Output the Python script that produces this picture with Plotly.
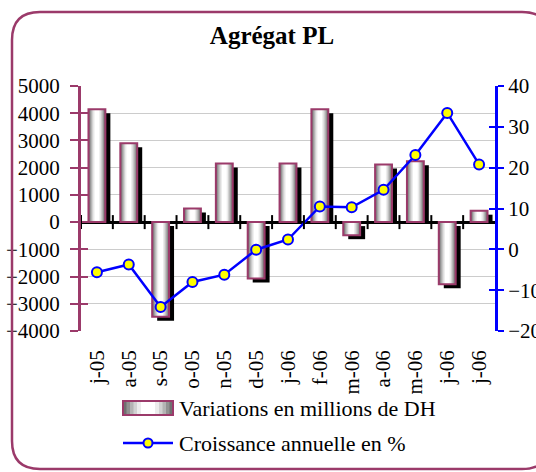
import plotly.graph_objects as go

months = ["j-05", "a-05", "s-05", "o-05", "n-05", "d-05", "j-06",
          "f-06", "m-06", "a-06", "m-06", "j-06", "j-06"]
variations = [4150, 2900, -3480, 500, 2150, -2070, 2150,
              4150, -480, 2120, 2240, -2280, 420]
croissance = [-5.6, -3.7, -14.1, -8.0, -6.2, -0.1, 2.4,
              10.5, 10.3, 14.6, 23.1, 33.4, 20.8]

idx = list(range(len(months)))

W = 536
H = 472
PL, PR, PT, PB = 81, 495, 86, 331
PW, PH = PR - PL, PB - PT

def px(x):
    return (x - PL) / PW

def py(y):
    return (PB - y) / PH

MAROON = "#9b3a6a"
BLUE = "#0000ff"
FONT = "'Liberation Serif', 'Times New Roman', Times, serif"

bw = 0.53
shadow_dx = 5 / PW * 13  # 5 px in category units
shadow_dy = 4 / PH * 9000  # 4 px in value units

fig = go.Figure()

# shadows
sh_base = [0 if v > 0 else -shadow_dy for v in variations]
sh_h = [v - shadow_dy if v > 0 else v for v in variations]
fig.add_trace(go.Bar(x=idx, y=sh_h, base=sh_base, width=bw, offset=-bw / 2 + shadow_dx,
                     marker=dict(color="black", line=dict(width=0)),
                     showlegend=False, hoverinfo="skip"))

layers = [(1.0, "#707070"), (0.86, "#929292"), (0.72, "#b4b4b4"),
          (0.58, "#d2d2d2"), (0.44, "#ececec"), (0.28, "#ffffff")]
for frac, col in layers:
    w = bw * frac
    fig.add_trace(go.Bar(x=idx, y=variations, width=w, offset=-w / 2,
                         marker=dict(color=col, line=dict(width=0)),
                         showlegend=False, hoverinfo="skip"))

fig.add_trace(go.Bar(x=idx, y=variations, width=bw, offset=-bw / 2,
                     marker=dict(color="rgba(0,0,0,0)", line=dict(color=MAROON, width=2)),
                     name="Variations en millions de DH", showlegend=False))

fig.add_trace(go.Scatter(x=idx, y=croissance, yaxis="y2", mode="lines+markers",
                         line=dict(color=BLUE, width=2.5),
                         marker=dict(size=10, color="#ffff00", line=dict(color=BLUE, width=2)),
                         name="Croissance annuelle en %", showlegend=False))

# invisible traces for the overlay tick axes
fig.add_trace(go.Scatter(x=[0], y=[0], yaxis="y3", mode="markers",
                         marker=dict(opacity=0), showlegend=False, hoverinfo="skip"))
fig.add_trace(go.Scatter(x=[0], y=[0], yaxis="y4", mode="markers",
                         marker=dict(opacity=0), showlegend=False, hoverinfo="skip"))

shapes = []
# tick marks across the zero line at category boundaries
tick_half = 7 / PH * 9000
for i in range(len(months)):
    shapes.append(dict(type="line", xref="x", yref="y", x0=i - 0.5, x1=i - 0.5,
                       y0=-tick_half, y1=tick_half, line=dict(color="black", width=2)))

# rounded outer border
bx0, by0, bx1, by1, r = 12, 12, 550, 469, 28
path = (f"M {px(bx0)},{py(by0 + r)} "
        f"Q {px(bx0)},{py(by0)} {px(bx0 + r)},{py(by0)} "
        f"L {px(bx1 - r)},{py(by0)} "
        f"Q {px(bx1)},{py(by0)} {px(bx1)},{py(by0 + r)} "
        f"L {px(bx1)},{py(by1 - r)} "
        f"Q {px(bx1)},{py(by1)} {px(bx1 - r)},{py(by1)} "
        f"L {px(bx0 + r)},{py(by1)} "
        f"Q {px(bx0)},{py(by1)} {px(bx0)},{py(by1 - r)} Z")
shapes.append(dict(type="path", xref="paper", yref="paper", path=path,
                   line=dict(color=MAROON, width=2.5), fillcolor="rgba(0,0,0,0)"))

# legend: gradient rectangle
lx0, lx1, ly0, ly1 = 123, 173, 401, 415
lw = lx1 - lx0
lc = (lx0 + lx1) / 2
for frac, col in layers:
    hw = lw * frac / 2
    shapes.append(dict(type="rect", xref="paper", yref="paper",
                       x0=px(lc - hw), x1=px(lc + hw), y0=py(ly1), y1=py(ly0),
                       fillcolor=col, line=dict(width=0)))
shapes.append(dict(type="rect", xref="paper", yref="paper",
                   x0=px(lx0), x1=px(lx1), y0=py(ly1), y1=py(ly0),
                   fillcolor="rgba(0,0,0,0)", line=dict(color=MAROON, width=2)))
# legend: line with marker
shapes.append(dict(type="line", xref="paper", yref="paper",
                   x0=px(lx0), x1=px(lx1), y0=py(443), y1=py(443),
                   line=dict(color=BLUE, width=2.5)))
shapes.append(dict(type="circle", xref="paper", yref="paper",
                   x0=px(lc - 4.5), x1=px(lc + 4.5), y0=py(447.5), y1=py(438.5),
                   fillcolor="#ffff00", line=dict(color=BLUE, width=2)))

annotations = [
    dict(text="Variations en millions de DH", xref="paper", yref="paper",
         x=px(177), y=py(408), xanchor="left", yanchor="middle", showarrow=False,
         font=dict(family=FONT, size=22, color="black")),
    dict(text="Croissance annuelle en %", xref="paper", yref="paper",
         x=px(177), y=py(443), xanchor="left", yanchor="middle", showarrow=False,
         font=dict(family=FONT, size=22, color="black")),
]

fig.update_layout(
    width=W, height=H,
    margin=dict(l=PL, r=W - PR, t=PT, b=H - PB, autoexpand=False),
    paper_bgcolor="white", plot_bgcolor="white",
    barmode="overlay",
    showlegend=False,
    title=dict(text="<b>Agrégat PL</b>", x=272 / W, xref="container", xanchor="center",
               y=1 - 35 / H, yref="container", yanchor="middle",
               font=dict(family=FONT, size=25, color="black")),
    font=dict(family=FONT, size=21, color="black"),
    xaxis=dict(range=[-0.5, len(months) - 0.5], tickvals=idx, ticktext=months,
               tickangle=-90, ticks="", showline=False, showgrid=False, zeroline=False,
               ticklabelstandoff=14, automargin=False,
               tickfont=dict(family=FONT, size=21, color="black")),
    yaxis=dict(range=[-4000, 5000], dtick=1000, showgrid=True, gridcolor="#cccccc",
               gridwidth=1, zeroline=True, zerolinecolor="black", zerolinewidth=2.5,
               showline=True, linecolor=MAROON, linewidth=3, automargin=False,
               ticks="outside", ticklen=8, tickwidth=2, tickcolor=MAROON,
               ticklabelstandoff=6,
               tickfont=dict(family=FONT, size=21, color="black")),
    yaxis2=dict(range=[-20, 40], dtick=10, overlaying="y", side="right",
                showgrid=False, zeroline=False, showline=True, linecolor=BLUE, linewidth=3,
                ticks="outside", ticklen=6, tickwidth=2, tickcolor=BLUE, automargin=False,
                tickfont=dict(family=FONT, size=21, color="black")),
    yaxis3=dict(range=[-4000, 5000], dtick=1000, overlaying="y", side="left",
                showgrid=False, zeroline=False, showline=False, showticklabels=False,
                automargin=False,
                ticks="inside", ticklen=7, tickwidth=2, tickcolor=MAROON),
    yaxis4=dict(range=[-20, 40], dtick=10, overlaying="y", side="right",
                showgrid=False, zeroline=False, showline=False, showticklabels=False,
                automargin=False,
                ticks="inside", ticklen=6, tickwidth=2, tickcolor=BLUE),
    shapes=shapes,
    annotations=annotations,
)

fig.write_html("out.html", config={"displayModeBar": False},
               post_script="document.body.style.margin='0';document.body.style.padding='0';")
